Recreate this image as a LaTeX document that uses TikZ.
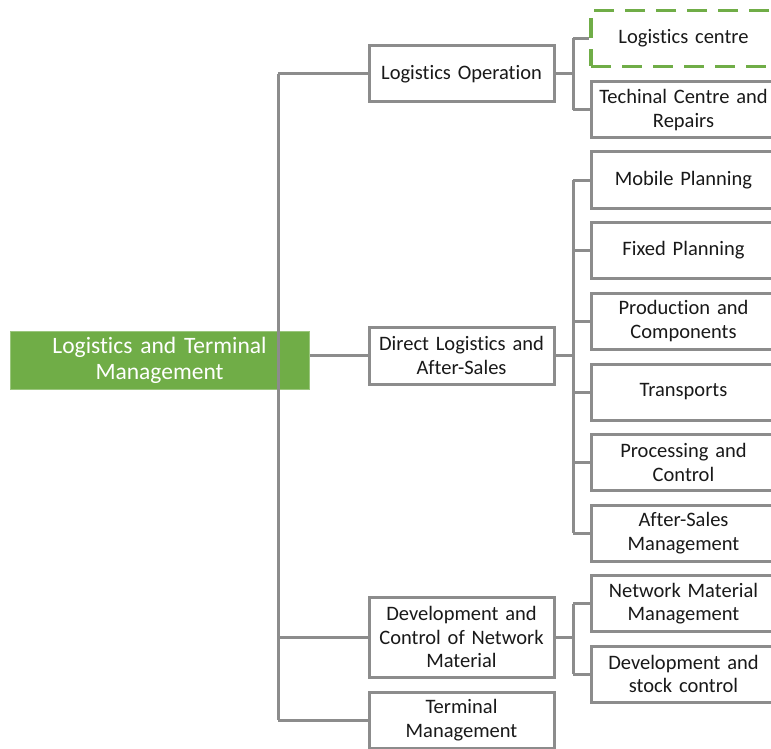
\documentclass[tikz,border=0pt]{standalone}
\usepackage{fontspec}
\setmainfont{Carlito}[Ligatures=NoCommon]
\usepackage{tikz}
\definecolor{linegray}{RGB}{140,140,140}
\definecolor{leafgreen}{RGB}{112,173,71}

\begin{document}
\begin{tikzpicture}[x=1pt,y=-1pt,
  unit/.style={draw=linegray,line width=3pt,fill=white,inner sep=0pt,
    minimum width=185pt,minimum height=56pt,text width=182pt,align=center,
    text=black!90,font=\fontsize{20.5}{23.5}\selectfont},
  rootbox/.style={fill=leafgreen,draw=leafgreen!70!white,line width=1pt,inner sep=0pt,
    minimum width=299pt,minimum height=58pt,text width=290pt,align=center,
    text=white,font=\fontsize{23.5}{26}\selectfont},
  todo/.style={unit,draw=leafgreen,line width=3.5pt,dash pattern=on 20pt off 11pt},
  link/.style={draw=linegray,line width=3pt}]

\useasboundingbox (0,0) rectangle (771,749);

% root
\node[rootbox] (root) at (159.5,360) {Logistics and Terminal\\Management};

% first level
\node[unit] (lo) at (461.5,74) {Logistics Operation};
\node[unit,minimum height=57pt] (dl) at (461.5,355.5) {Direct Logistics and\\After-Sales};
\node[unit,minimum height=80pt] (dc) at (461.5,637) {Development and\\Control of Network\\Material};
\node[unit] (tm) at (461.5,720) {Terminal\\Management};

% second level
\node[todo] (lc) at (683.5,38.5) {Logistics centre};
\node[unit] (tc) at (683.5,110) {Techinal Centre and\\Repairs};
\node[unit] (mp) at (683.5,180) {Mobile Planning};
\node[unit] (fp) at (683.5,250.5) {Fixed Planning};
\node[unit] (pc) at (683.5,321) {Production and\\Components};
\node[unit] (tr) at (683.5,392) {Transports};
\node[unit] (pr) at (683.5,462.5) {Processing and\\Control};
\node[unit] (as) at (683.5,533) {After-Sales\\Management};
\node[unit] (nm) at (683.5,603.5) {Network Material\\Management};
\node[unit] (ds) at (683.5,674) {Development and\\stock control};

\coordinate (trunk) at (278,0);
\coordinate (sub) at (573,0);

% connectors
\draw[link] (root.east |- dl) -- (dl.west);
\draw[link] (trunk |- lo) -- (trunk |- tm);
\foreach \n in {lo,dc,tm}
  \draw[link] (trunk |- \n) -- (\n.west);

\draw[link] (lo.east) -- (sub |- lo);
\draw[link] (sub |- lc) -- (sub |- tc);
\draw[link] (dl.east) -- (sub |- dl);
\draw[link] (sub |- mp) -- (sub |- as);
\draw[link] (dc.east) -- (sub |- dc);
\draw[link] (sub |- nm) -- (sub |- ds);
\foreach \n in {lc,tc,mp,fp,pc,tr,pr,as,nm,ds}
  \draw[link] (sub |- \n) -- (\n.west);

\end{tikzpicture}
\end{document}
